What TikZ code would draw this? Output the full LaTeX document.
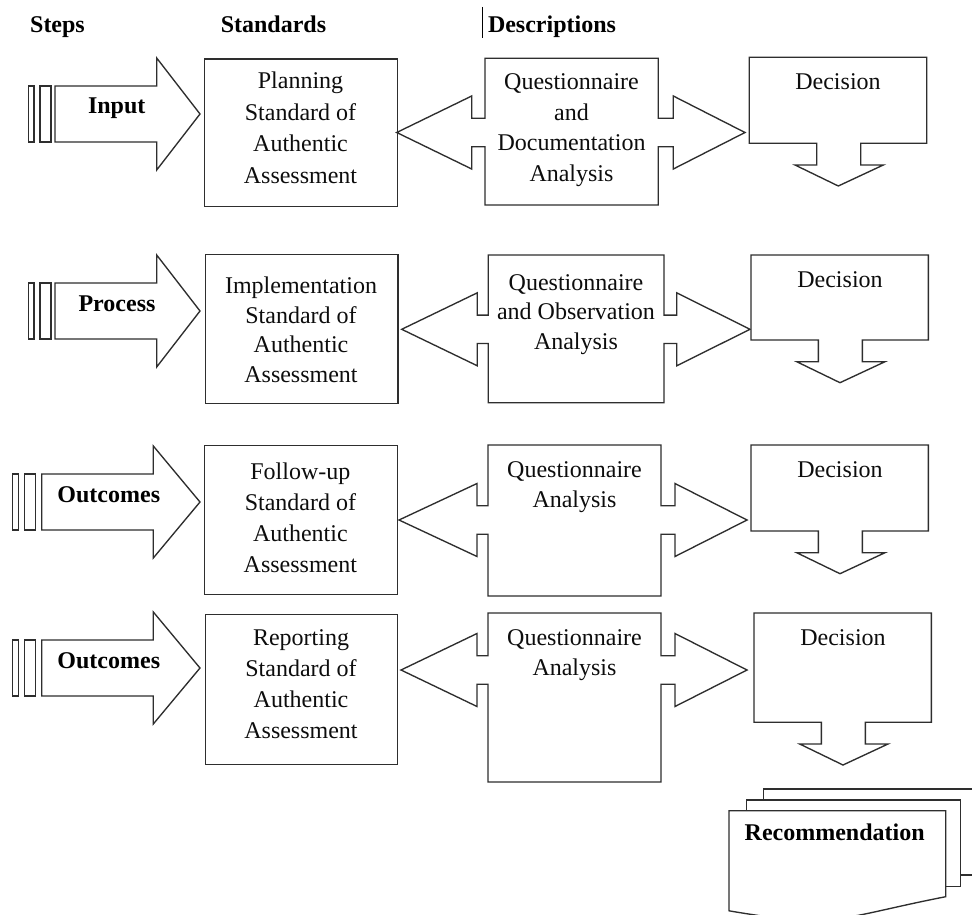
\documentclass[tikz,border=0pt]{standalone}
\usepackage{fontspec}
\setmainfont{Liberation Serif}

% Block arrow pointing at a standard: two thin bars, a shaft and a head.
% #1 left bar x, #2 shaft left x, #3 shaft right x, #4 centre y, #5 label x, #6 name, #7 label
\newcommand{\steparrow}[7]{%
  \draw[shape line] (#1,#4-28) rectangle ++(5.7,56);
  \draw[shape line] (#1+11.7,#4-28) rectangle ++(11,56);
  \draw[shape line] (#2,#4-28) -- (#3,#4-28) -- (#3,#4-56) -- (200,#4)
     -- (#3,#4+56) -- (#3,#4+28) -- (#2,#4+28) -- cycle;
  \node[strong, anchor=base] (#6) at (#5,#4) {#7};
}

% Box with an arrow on each side (left-right callout).
% #1 left tip, #2 left head x, #3 box left, #4 box right, #5 right head x,
% #6 right tip, #7 box top, #8 box bottom, #9 centre y
\newcommand{\twowayarrow}[9]{%
  \draw[shape line] (#1,#9) -- (#2,#9-36.5) -- (#2,#9-14.2) -- (#3,#9-14.2)
     -- (#3,#7) -- (#4,#7) -- (#4,#9-14.2) -- (#5,#9-14.2) -- (#5,#9-36.5)
     -- (#6,#9) -- (#5,#9+36.5) -- (#5,#9+14.2) -- (#4,#9+14.2) -- (#4,#8)
     -- (#3,#8) -- (#3,#9+14.2) -- (#2,#9+14.2) -- (#2,#9+36.5) -- cycle;
}

% Box with a down-pointing arrow below (down callout).
% #1 box left, #2 box top, #3 box bottom
\newcommand{\downcallout}[3]{%
  \draw[shape line] (#1,#2) -- (#1+177.4,#2) -- (#1+177.4,#3) -- (#1+111.4,#3)
     -- (#1+111.4,#3+21.7) -- (#1+134,#3+21.7) -- (#1+89,#3+42.7)
     -- (#1+45.7,#3+21.7) -- (#1+67.4,#3+21.7) -- (#1+67.4,#3) -- (#1,#3) -- cycle;
}

\begin{document}
\begin{tikzpicture}[x=1pt,y=-1pt,
  shape line/.style={draw=black!82, line width=1.35pt, line join=miter, fill=white},
  stdbox/.style={draw=black!82, line width=1.35pt, fill=white, inner sep=0pt, anchor=north west},
  body/.style={font=\fontsize{24}{#1}\selectfont, text=black!95, inner sep=0pt, align=center, anchor=north},
  body/.default=30.8,
  strong/.style={font=\fontsize{24}{28}\selectfont\bfseries, text=black, inner sep=0pt},
]
\useasboundingbox (0,0) rectangle (972,915);

% column headings
\node[strong, anchor=base] (hsteps) at (57.5,33) {Steps};
\node[strong, anchor=base] (hstd) at (273.5,33) {Standards};
\node[strong, anchor=base] (hdesc) at (552,33) {Descriptions};
\draw[black, line width=0.9pt] (482.7,7) -- (482.7,38);

% ---- row 1: input
\steparrow{28.3}{55}{156.7}{114}{116.7}{step1}{Input}
\node[stdbox, minimum width=192.7pt, minimum height=147.4pt] (std1) at (204,58.3) {};
\node[body=31.5] (std1t) at (300.5,71.9) {Planning\\Standard of\\Authentic\\Assessment};
\twowayarrow{396.7}{471.7}{485}{658.3}{673.3}{745}{58.3}{205}{132.5}
\node[body] (desc1) at (571.5,73.3) {Questionnaire\\and\\Documentation\\Analysis};
\downcallout{749.3}{57.3}{143.3}
\node[body, anchor=base] (dec1) at (838,89.3) {Decision};

% ---- row 2: process
\steparrow{28.3}{55}{156.7}{311}{117}{step2}{Process}
\node[stdbox, minimum width=192.3pt, minimum height=148.7pt] (std2) at (205,254) {};
\node[body=29.5] (std2t) at (301,276.9) {Implementation\\Standard of\\Authentic\\Assessment};
\twowayarrow{401.7}{477.3}{488.3}{664}{676.7}{750}{255}{402.7}{329.3}
\node[body=29.5] (desc2) at (576,274) {Questionnaire\\and Observation\\Analysis};
\downcallout{751}{255}{340}
\node[body, anchor=base] (dec2) at (840,287) {Decision};

% ---- row 3: outcomes (follow-up)
\steparrow{12.7}{41.7}{153.3}{502}{108.8}{step3}{Outcomes}
\node[stdbox, minimum width=192.7pt, minimum height=149pt] (std3) at (204,445) {};
\node[body] (std3t) at (300.4,462.9) {Follow-up\\Standard of\\Authentic\\Assessment};
\twowayarrow{399}{477}{488}{661}{675}{747}{445}{596}{520}
\node[body] (desc3) at (574.5,461) {Questionnaire\\Analysis};
\downcallout{751}{445}{531}
\node[body, anchor=base] (dec3) at (840,477) {Decision};

% ---- row 4: outcomes (reporting)
\steparrow{12.7}{41.7}{153.3}{668}{108.8}{step4}{Outcomes}
\node[stdbox, minimum width=192pt, minimum height=150pt] (std4) at (205,614) {};
\node[body] (std4t) at (301,629.6) {Reporting\\Standard of\\Authentic\\Assessment};
\twowayarrow{401}{477}{488}{661}{675}{747}{613}{782}{670}
\node[body] (desc4) at (574.5,629) {Questionnaire\\Analysis};
\downcallout{754}{613}{722.3}
\node[body, anchor=base] (dec4) at (843,645) {Decision};

% ---- recommendation: stacked documents
\begin{scope}
  \clip (0,0) rectangle (972,915);
  \draw[shape line] (763.3,789) rectangle (1000,875);
  \draw[shape line] (746.7,800) rectangle (960.7,886.7);
  \draw[shape line] (729,810.7) -- (945.7,810.7) -- (945.7,896.7)
     .. controls (837.3,917.9) and (837.3,929.4) .. (729,910.8) -- cycle;
\end{scope}
\node[strong, anchor=base] (rec) at (834.7,840) {Recommendation};
\end{tikzpicture}
\end{document}
